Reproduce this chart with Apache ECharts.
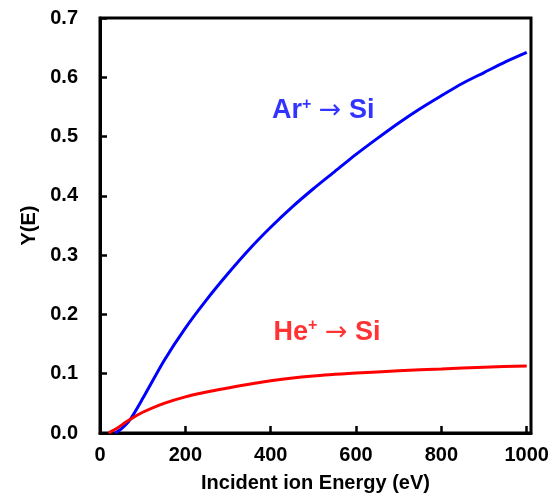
<!DOCTYPE html>
<html>
<head>
<meta charset="utf-8">
<script src="https://cdn.jsdelivr.net/npm/echarts@6/dist/echarts.min.js"></script>
<style>html,body{margin:0;padding:0;background:#fff}#c{width:557px;height:498px}</style>
</head>
<body>
<div id="c"></div>
<script>
const arEnergy = [35, 50, 70, 100, 150, 200, 250, 300, 350, 400, 450, 500, 550, 600, 650, 700, 750, 800, 850, 900, 950, 1000];
const arYield  = [0, 0.007, 0.022, 0.058, 0.122, 0.177, 0.225, 0.269, 0.31, 0.347, 0.381, 0.412, 0.441, 0.47, 0.497, 0.523, 0.547, 0.569, 0.59, 0.608, 0.626, 0.642];
const heEnergy = [20, 40, 60, 80, 100, 150, 200, 250, 300, 400, 500, 600, 700, 800, 900, 1000];
const heYield  = [0, 0.008, 0.018, 0.027, 0.035, 0.05, 0.061, 0.069, 0.076, 0.088, 0.096, 0.101, 0.105, 0.108, 0.111, 0.113];
const xTicks = [0, 200, 400, 600, 800, 1000];
const yTicks = [0.0, 0.1, 0.2, 0.3, 0.4, 0.5, 0.6, 0.7];
const labels = [
  {ion: 'Ar', target: 'Si', E: 523, Y: 0.546, color: '#0000FF'},
  {ion: 'He', target: 'Si', E: 532, Y: 0.172, color: '#FF0000'}
];

const font = 'Liberation Sans, Arial, sans-serif';
const chart = echarts.init(document.getElementById('c'), null, {renderer: 'canvas'});

function pairs(xs, ys) { return xs.map((x, i) => [x, ys[i]]); }
function richLabel(l) {
  return {
    show: true,
    position: 'inside',
    formatter: '{m|' + l.ion + '}{s|+}{m| }{a|→}{m| ' + l.target + '}',
    rich: {
      m: {fontSize: 27, fontWeight: 'bold', fontFamily: font, color: l.color, verticalAlign: 'bottom', lineHeight: 30},
      s: {fontSize: 16, fontWeight: 'bold', fontFamily: font, color: l.color, verticalAlign: 'top', lineHeight: 30, padding: [2, 0, 0, 0]},
      a: {fontSize: 27, fontWeight: 'normal', fontFamily: 'DejaVu Sans, sans-serif', color: l.color, verticalAlign: 'bottom', lineHeight: 30}
    }
  };
}

const option = {
  backgroundColor: '#fff',
  animation: false,
  grid: {left: 100, right: 26, top: 18, bottom: 65, show: true, borderColor: '#000', borderWidth: 3, backgroundColor: 'transparent'},
  xAxis: {
    type: 'value', min: 0, max: 1010, interval: 200,
    name: 'Incident ion Energy (eV)', nameLocation: 'middle', nameGap: 40,
    nameTextStyle: {fontSize: 20, fontWeight: 'bold', fontFamily: font, color: '#000'},
    axisLine: {show: true, lineStyle: {color: '#000', width: 3}},
    axisTick: {show: true, inside: true, length: 7, lineStyle: {color: '#000', width: 2.5}},
    axisLabel: {fontSize: 20, fontWeight: 'bold', fontFamily: font, color: '#000', margin: 12, showMaxLabel: false,
      formatter: v => xTicks.includes(v) ? String(v) : ''},
    splitLine: {show: false}
  },
  yAxis: {
    type: 'value', min: 0, max: 0.7, interval: 0.1,
    name: 'Y(E)', nameLocation: 'middle', nameGap: 58,
    nameTextStyle: {fontSize: 20, fontWeight: 'bold', fontFamily: font, color: '#000'},
    axisLine: {show: true, lineStyle: {color: '#000', width: 3}},
    axisTick: {show: true, inside: true, length: 7, lineStyle: {color: '#000', width: 2.5}},
    axisLabel: {fontSize: 20, fontWeight: 'bold', fontFamily: font, color: '#000', margin: 22,
      formatter: v => { const t = yTicks.find(y => Math.abs(y - v) < 1e-9); return t === undefined ? '' : t.toFixed(1); }},
    splitLine: {show: false}
  },
  series: [
    {type: 'line', data: pairs(arEnergy, arYield), showSymbol: false, smooth: 0.25,
     lineStyle: {color: '#0000FF', width: 3}, itemStyle: {color: '#0000FF'}},
    {type: 'line', data: pairs(heEnergy, heYield), showSymbol: false, smooth: 0.25,
     lineStyle: {color: '#FF0000', width: 3}, itemStyle: {color: '#FF0000'}},
    {type: 'scatter', symbolSize: 0, silent: true,
     data: labels.map(l => ({value: [l.E, l.Y], label: richLabel(l)}))}
  ]
};
chart.setOption(option);
</script>
</body>
</html>
